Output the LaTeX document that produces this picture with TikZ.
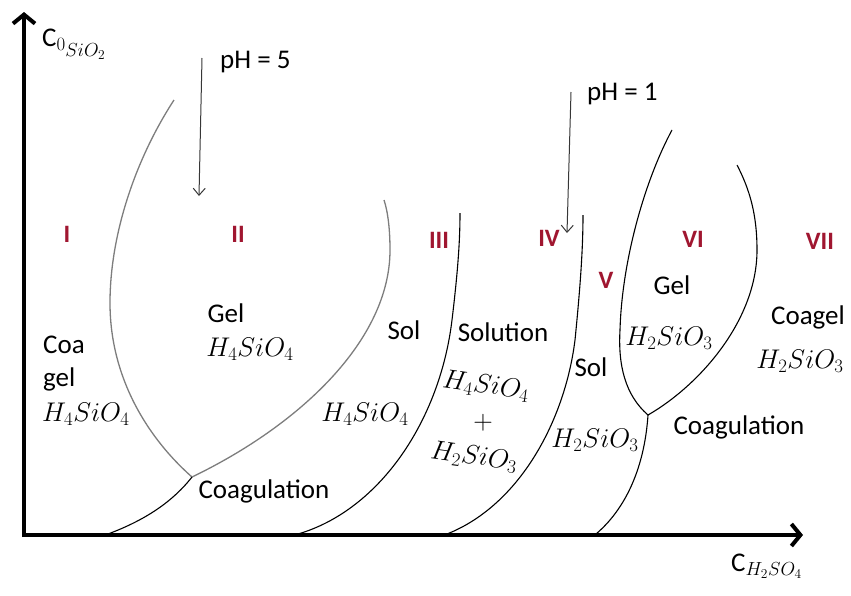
\RequirePackage{fix-cm}
\documentclass[tikz,border=0pt]{standalone}
\usepackage{fontspec}
\setmainfont{Carlito}
\usetikzlibrary{arrows.meta}
\definecolor{numred}{RGB}{160,22,48}
\definecolor{curvegray}{RGB}{125,125,125}
\definecolor{arrowgray}{RGB}{55,55,55}
\begin{document}
\begin{tikzpicture}[x=1pt,y=-1pt,
  txt/.style={font=\fontsize{27}{32}\selectfont, inner sep=0pt},
  num/.style={font=\fontsize{25}{28}\selectfont\bfseries, text=numred, inner sep=0pt},
  axis/.style={line width=4pt, -{Straight Barb[length=9pt,width=22pt,line width=4pt]}},
  phase/.style={line width=1.1pt, black},
  gphase/.style={line width=1.3pt, curvegray},
  pharrow/.style={line width=1pt, arrowgray, -{Straight Barb[length=7pt,width=12pt,line width=1pt]}}]
\useasboundingbox (0,0) rectangle (851,595);
% axes
\coordinate (origin) at (24,535);
\coordinate (ytop) at (24,12);
\coordinate (xend) at (803,535);
\draw[axis] ([yshift=-2pt]origin) -- (ytop);
\draw[axis] ([xshift=-2pt]origin) -- (xend);
\node[txt, anchor=west] (ylab) at (42,44) {C$_{0_{\scriptstyle SiO_2}}$};
\node[txt, anchor=west] (xlab) at (731,566) {C$_{H_2SO_4}$};
% junctions
\coordinate (j1) at (192,477);
\coordinate (j2) at (648,415);
% left gray curves
\draw[gphase] (174,100) .. controls (135,160) and (110,235) .. (110,303)
              .. controls (110,380) and (150,440) .. (j1);
\draw[gphase] (j1) .. controls (300,425) and (390,340) .. (390,250)
              .. controls (390,230) and (388,212) .. (384,200);
\draw[phase] (j1) .. controls (170,505) and (140,522) .. (108,534);
% curve III/IV
\draw[phase] (298,534) .. controls (380,510) and (440,420) .. (452,320)
             .. controls (458,270) and (460,240) .. (460,213);
% curve IV/V
\draw[phase] (447,534) .. controls (520,505) and (565,420) .. (575,340)
             .. controls (580,290) and (583,250) .. (583,215);
% curve V/VI/VII
\draw[phase] (596,534) .. controls (630,505) and (645,460) .. (j2);
\draw[phase] (j2) .. controls (625,395) and (618,365) .. (620,330)
             .. controls (622,260) and (645,180) .. (672,130);
\draw[phase] (j2) .. controls (700,385) and (757,320) .. (757,250)
             .. controls (757,215) and (750,190) .. (737,165);
% pH arrows
\node[txt, anchor=west] (ph5) at (220,62) {pH = 5};
\node[txt, anchor=west] (ph1) at (587,94) {pH = 1};
\coordinate (a5s) at (202,58);
\coordinate (a5e) at (199,196);
\coordinate (a1s) at (571,92);
\coordinate (a1e) at (567,233);
\draw[pharrow] (a5s) -- (a5e);
\draw[pharrow] (a1s) -- (a1e);
% region numerals
\node[num] (nI) at (67,234) {I};
\node[num] (nII) at (238,234) {II};
\node[num] (nIII) at (439,240) {III};
\node[num] (nIV) at (549,238) {IV};
\node[num] (nV) at (606,280) {V};
\node[num] (nVI) at (693,239) {VI};
\node[num] (nVII) at (820,241) {VII};
% region texts
\node[txt, anchor=west] (coa) at (43,345) {Coa};
\node[txt, anchor=west] (gel1) at (43,379) {gel};
\node[txt, anchor=west] (f1) at (42,414) {$H_4SiO_4$};
\node[txt] (gel2) at (226,313) {Gel};
\node[txt] (f2) at (250,349) {$H_4SiO_4$};
\node[txt] (coag1) at (264,491) {Coagulation};
\node[txt] (sol1) at (404,330) {Sol};
\node[txt] (f3) at (365,414) {$H_4SiO_4$};
\node[txt] (solution) at (503,332) {Solution};
\node[txt, rotate=-8] (f4) at (486,386) {$H_4SiO_4$};
\node[txt] (plus) at (483,423) {$+$};
\node[txt, rotate=-8] (f5) at (474,457) {$H_2SiO_3$};
\node[txt] (sol2) at (591,367) {Sol};
\node[txt] (f6) at (595,440) {$H_2SiO_3$};
\node[txt] (gel3) at (672,285) {Gel};
\node[txt] (f7) at (669,338) {$H_2SiO_3$};
\node[txt] (coagel) at (808,317) {Coagel};
\node[txt] (f8) at (800,361) {$H_2SiO_3$};
\node[txt] (coag2) at (739,427) {Coagulation};
\end{tikzpicture}
\end{document}
